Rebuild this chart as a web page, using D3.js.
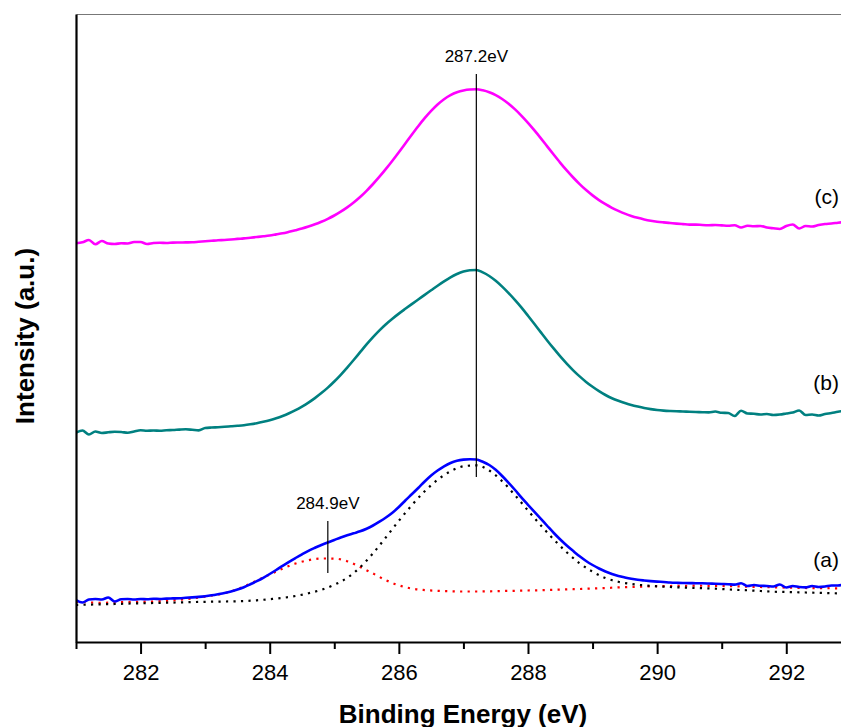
<!DOCTYPE html>
<html>
<head>
<meta charset="utf-8">
<script src="https://cdn.jsdelivr.net/npm/d3@7/dist/d3.min.js"></script>
<style>
  html, body { margin: 0; padding: 0; background: #ffffff; }
  svg { display: block; }
  text { font-family: Arial, "Liberation Sans", Helvetica, sans-serif; fill: #000; }
</style>
</head>
<body>
<svg id="chart" width="841" height="727"></svg>
<script>
// Binding energy grid of the measured C 1s spectra (eV)
const energy = [
  281.0,281.1,281.2,281.3,281.4,281.5,281.6,281.7,281.8,281.9,
  282.0,282.1,282.2,282.3,282.4,282.5,282.6,282.7,282.8,282.9,
  283.0,283.1,283.2,283.3,283.4,283.5,283.6,283.7,283.8,283.9,
  284.0,284.1,284.2,284.3,284.4,284.5,284.6,284.7,284.8,284.9,
  285.0,285.1,285.2,285.3,285.4,285.5,285.6,285.7,285.8,285.9,
  286.0,286.1,286.2,286.3,286.4,286.5,286.6,286.7,286.8,286.9,
  287.0,287.1,287.2,287.3,287.4,287.5,287.6,287.7,287.8,287.9,
  288.0,288.1,288.2,288.3,288.4,288.5,288.6,288.7,288.8,288.9,
  289.0,289.1,289.2,289.3,289.4,289.5,289.6,289.7,289.8,289.9,
  290.0,290.1,290.2,290.3,290.4,290.5,290.6,290.7,290.8,290.9,
  291.0,291.1,291.2,291.3,291.4,291.5,291.6,291.7,291.8,291.9,
  292.0,292.1,292.2,292.3,292.4,292.5,292.6,292.7,292.8,292.9
];

// Spectrum (a), stacked offset, a.u.
const spectrumA = [
  42.0,39.5,42.5,43.0,42.5,44.5,40.5,42.7,43.0,42.5,
  43.0,42.8,43.2,43.0,43.4,43.6,43.8,44.2,44.6,45.1,
  45.8,46.7,47.8,49.0,50.5,52.4,54.8,57.7,60.8,64.2,
  68.0,72.0,76.2,80.2,84.0,87.7,91.2,94.2,97.0,99.5,
  102.0,104.5,106.7,108.7,110.7,113.3,116.5,120.3,124.5,129.3,
  135.0,141.5,147.7,154.0,160.5,166.5,171.5,175.7,179.0,181.2,
  182.4,182.8,182.5,180.2,177.0,172.2,166.0,159.2,152.0,144.4,
  137.2,130.1,123.1,116.0,109.0,102.5,96.5,91.0,85.7,81.0,
  77.0,73.5,70.5,68.0,66.0,64.5,63.2,62.2,61.5,60.9,
  60.4,60.0,59.5,59.2,59.0,58.9,58.8,58.7,58.5,58.2,
  58.0,57.8,57.4,58.8,56.0,57.0,56.2,56.0,55.5,57.5,
  54.5,56.0,55.0,54.6,56.0,55.0,55.5,56.5,56.5,57.5
];

// Spectrum (b)
const spectrumB = [
  209.3,211.5,207.5,210.5,209.0,209.7,210.2,210.0,209.2,210.5,
  211.7,211.2,211.5,211.3,211.8,212.0,212.4,212.7,212.2,211.6,
  214.0,214.5,214.8,215.2,215.7,216.2,216.8,217.7,218.8,220.2,
  221.8,223.7,226.0,228.7,231.8,235.4,239.4,243.9,248.9,254.4,
  260.5,267.2,274.4,282.0,289.8,297.6,304.9,311.7,317.8,323.3,
  328.4,333.2,337.9,342.5,347.1,351.7,356.3,360.7,364.7,368.0,
  370.5,371.8,372.0,369.6,366.0,361.2,355.4,348.9,341.9,334.4,
  326.3,318.0,309.6,301.3,293.3,285.6,278.4,271.7,265.6,260.1,
  255.2,250.8,247.0,243.8,241.2,239.0,237.0,235.4,234.0,232.9,
  232.0,231.4,231.0,230.7,230.5,230.2,230.0,229.8,229.6,230.5,
  229.2,229.0,226.0,231.3,228.5,228.2,227.5,228.0,227.0,227.5,
  228.5,229.5,231.5,227.0,227.5,226.5,228.0,229.0,230.3,231.0
];

// Spectrum (c)
const spectrumC = [
  398.7,399.7,402.0,397.7,401.0,398.5,398.0,398.7,398.5,400.0,
  400.0,398.0,399.0,399.3,399.0,399.4,399.5,399.6,399.7,400.2,
  400.7,401.2,401.7,402.0,402.5,403.1,403.6,404.3,405.0,405.7,
  406.5,407.6,408.7,410.2,411.8,413.5,415.5,417.7,420.3,423.2,
  426.5,430.3,434.6,439.5,445.0,451.2,458.0,465.3,473.1,481.3,
  489.8,498.5,507.2,515.7,523.8,531.1,537.5,542.8,546.9,549.8,
  551.6,552.5,552.7,551.7,549.8,546.9,543.0,538.2,532.6,526.2,
  519.2,511.6,503.6,495.4,487.2,479.2,471.6,464.5,457.9,451.9,
  446.6,441.9,437.8,434.2,431.1,428.4,426.1,424.2,422.6,421.3,
  420.3,419.6,419.0,418.4,417.9,417.4,417.4,417.0,416.8,417.0,
  416.6,416.2,416.7,414.5,416.2,415.7,416.0,414.5,413.7,413.0,
  416.0,417.5,413.5,416.0,415.5,417.0,418.0,418.5,419.3,420.0
];

// Energy grid of the fitted components of spectrum (a)
const fitEnergy = [
  281.0,281.2,281.4,281.6,281.8,282.0,282.2,282.4,282.6,282.8,
  283.0,283.2,283.4,283.6,283.8,284.0,284.2,284.4,284.6,284.8,
  285.0,285.2,285.4,285.6,285.8,286.0,286.2,286.4,286.6,286.8,
  287.0,287.2,287.4,287.6,287.8,288.0,288.2,288.4,288.6,288.8,
  289.0,289.2,289.4,289.6,289.8,290.0,290.2,290.4,290.6,290.8,
  291.0,291.2,291.4,291.6,291.8,292.0,292.2,292.4,292.6,292.8,
  293.0
];

// Fitted component at 287.2 eV (black dotted)
const fit287 = [
  37.0,37.4,37.7,38.0,38.4,38.7,39.0,39.3,39.6,39.9,
  40.2,40.4,40.6,41.0,41.7,42.8,44.1,46.0,48.7,52.2,
  57.2,64.2,74.7,88.7,104.7,121.2,136.7,150.7,162.2,170.7,
  175.7,176.7,171.5,160.8,146.7,131.5,116.5,102.5,89.7,78.7,
  70.3,64.0,60.2,58.0,56.6,55.7,55.0,54.5,54.0,53.6,
  53.0,52.2,51.7,51.0,50.3,50.0,49.7,49.3,49.0,48.7,
  48.4
];

// Fitted component at 284.9 eV (red dotted)
const fit285 = [
  40.2,39.6,39.2,39.6,40.0,40.2,40.5,41.2,42.2,43.6,
  45.4,47.5,50.5,55.5,61.5,67.5,73.4,78.5,81.8,83.5,
  83.4,80.8,75.0,68.5,61.8,56.7,53.4,51.9,51.2,50.7,
  50.5,50.5,50.7,51.0,51.2,51.5,51.8,52.2,52.6,53.0,
  53.5,54.0,54.6,55.1,55.5,55.8,56.0,56.2,56.3,56.2,
  56.0,55.7,55.3,55.0,54.7,54.4,54.1,53.9,53.8,53.7,
  53.6
];

// Peak position markers: energy, label, marker extent in intensity units
const markerEnergy = [287.2, 284.9];
const markerLabel = ["287.2eV", "284.9eV"];
const markerTop = [568, 121];
const markerBottom = [165, 69];

// Axis ticks
const majorTicks = [282, 284, 286, 288, 290, 292];
const minorTicks = [281, 283, 285, 287, 289, 291, 293];

const svg = d3.select("#chart");
const W = 841, H = 727;
const plotLeft = 76, plotTop = 14, plotBottom = 642;

const x = d3.scaleLinear().domain([281, 293]).range([plotLeft, plotLeft + 12 * 64.57]);
const y = d3.scaleLinear().domain([0, 628]).range([plotBottom, plotTop]);

svg.append("rect").attr("width", W).attr("height", H).attr("fill", "#ffffff");

svg.append("defs").append("clipPath").attr("id", "plotClip")
  .append("rect").attr("x", plotLeft).attr("y", plotTop)
  .attr("width", W - plotLeft).attr("height", plotBottom - plotTop);

const plot = svg.append("g").attr("clip-path", "url(#plotClip)");

const line = d3.line()
  .x(d => x(d[0]))
  .y(d => y(d[1]))
  .curve(d3.curveMonotoneX);

const zip = (xs, ys) => xs.map((v, i) => [v, ys[i]]);

// fitted components first, measured spectra on top
plot.append("path").datum(zip(fitEnergy, fit285))
  .attr("d", line).attr("fill", "none")
  .attr("stroke", "#ff0000").attr("stroke-width", 2.2)
  .attr("stroke-dasharray", "2.2,5.3");

plot.append("path").datum(zip(fitEnergy, fit287))
  .attr("d", line).attr("fill", "none")
  .attr("stroke", "#000000").attr("stroke-width", 2.2)
  .attr("stroke-dasharray", "2.2,5.3");

const spectra = [
  { data: spectrumC, color: "#ff00ff" },
  { data: spectrumB, color: "#008080" },
  { data: spectrumA, color: "#0000ff" }
];
spectra.forEach(s => {
  plot.append("path").datum(zip(energy, s.data))
    .attr("d", line).attr("fill", "none")
    .attr("stroke", s.color).attr("stroke-width", 2.6)
    .attr("stroke-linejoin", "round");
});

// peak markers with labels
markerEnergy.forEach((e, i) => {
  svg.append("line")
    .attr("x1", x(e)).attr("x2", x(e))
    .attr("y1", y(markerTop[i])).attr("y2", y(markerBottom[i]))
    .attr("stroke", "#000").attr("stroke-width", 1.2);
  svg.append("text")
    .attr("x", x(e)).attr("y", y(markerTop[i]) - 12.3)
    .attr("text-anchor", "middle")
    .style("font-size", "17px")
    .text(markerLabel[i]);
});

// series labels
const seriesLabels = [
  { text: "(c)", y: 204 },
  { text: "(b)", y: 390 },
  { text: "(a)", y: 567 }
];
seriesLabels.forEach(l => {
  svg.append("text").attr("x", 839).attr("y", l.y)
    .attr("text-anchor", "end").style("font-size", "21px").text(l.text);
});

// top frame line
svg.append("g").attr("transform", `translate(0,${plotTop})`)
  .call(d3.axisTop(x).tickValues([]).tickSizeOuter(0))
  .select(".domain").attr("stroke", "#777").attr("stroke-width", 1.2);

// left axis (no ticks)
svg.append("g").attr("transform", `translate(${plotLeft},0)`)
  .call(d3.axisLeft(y).tickValues([]).tickSizeOuter(0))
  .select(".domain").attr("stroke", "#000").attr("stroke-width", 2.2);

// bottom axis: minor ticks
svg.append("g").attr("transform", `translate(0,${plotBottom})`)
  .call(d3.axisBottom(x).tickValues(minorTicks).tickSize(7).tickSizeOuter(0).tickFormat(""))
  .call(g => g.select(".domain").remove())
  .selectAll("line").attr("stroke", "#000").attr("stroke-width", 2);

// bottom axis: major ticks with labels
const xAxis = svg.append("g").attr("transform", `translate(0,${plotBottom})`)
  .call(d3.axisBottom(x).tickValues(majorTicks).tickSize(12).tickSizeOuter(0).tickFormat(d3.format("d")));
xAxis.select(".domain").attr("stroke", "#000").attr("stroke-width", 2.2);
xAxis.selectAll(".tick line").attr("stroke", "#000").attr("stroke-width", 2);
xAxis.selectAll(".tick text")
  .attr("y", 38).attr("dy", 0)
  .style("font-size", "22px")
  .style("font-family", "Arial, 'Liberation Sans', sans-serif")
  .attr("fill", "#000");

// axis titles
svg.append("text")
  .attr("x", 463).attr("y", 723)
  .attr("text-anchor", "middle")
  .style("font-size", "26px").style("font-weight", "bold")
  .text("Binding Energy (eV)");

svg.append("text")
  .attr("transform", "translate(34,336) rotate(-90)")
  .attr("text-anchor", "middle")
  .style("font-size", "26px").style("font-weight", "bold")
  .text("Intensity (a.u.)");
</script>
</body>
</html>
